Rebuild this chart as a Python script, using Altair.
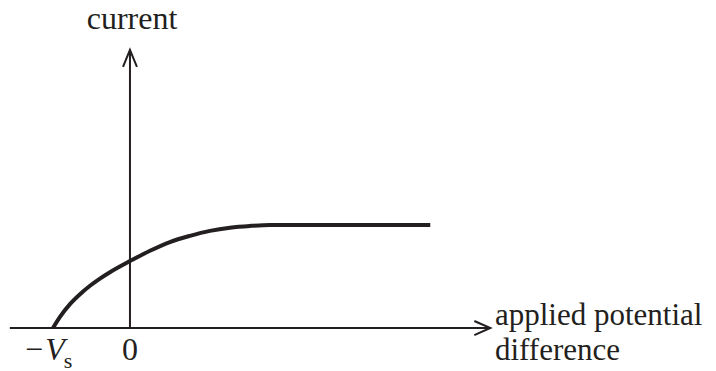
import altair as alt
import pandas as pd

# ---- data ----
# applied potential difference, in units of Vs ; current, in units of the saturation current
curve_v = [-1.0, -0.909, -0.779, -0.649, -0.519, -0.390, -0.260, 0.0, 0.26, 0.519,
           0.779, 1.039, 1.299, 1.558, 1.818, 3.9]
curve_i = [0.0, 0.108, 0.232, 0.328, 0.410, 0.480, 0.542, 0.65, 0.75, 0.835,
           0.895, 0.943, 0.974, 0.991, 1.0, 1.0]

x_axis_from, x_axis_to = -1.56, 4.68
y_axis_from, y_axis_to = 0.0, 2.70

x_title_lines = ["applied potential", "difference"]
y_title = "current"
tick_zero = "0"
tick_vs_minus, tick_vs_v, tick_vs_sub = "\u2212", "V", "s"

INK = "#231f20"
FONT = "Liberation Serif"
FS = 32

W, H = 700, 362
xs = alt.Scale(domain=[-1.584, -1.584 + W / 77.0], nice=False, zero=False)
ys = alt.Scale(domain=[3.107 - H / 103.0, 3.107], nice=False, zero=False)

curve = pd.DataFrame({"v": curve_v, "i": curve_i})
axes = pd.DataFrame({
    "x": [x_axis_from, 0.0], "x2": [x_axis_to, 0.0],
    "y": [0.0, y_axis_from], "y2": [0.0, y_axis_to],
})

rules = alt.Chart(axes).mark_rule(color=INK, strokeWidth=2).encode(
    x=alt.X("x:Q", scale=xs, axis=None), x2="x2:Q",
    y=alt.Y("y:Q", scale=ys, axis=None), y2="y2:Q",
)

arrow_x = alt.Chart(pd.DataFrame({"x": [x_axis_to], "y": [0.0]})).mark_point(
    shape="M -1 -0.44 L 0 0 L -1 0.44", size=1024, filled=False,
    stroke=INK, strokeWidth=2, opacity=1,
).encode(x=alt.X("x:Q", scale=xs, axis=None), y=alt.Y("y:Q", scale=ys, axis=None))

arrow_y = alt.Chart(pd.DataFrame({"x": [0.0], "y": [y_axis_to]})).mark_point(
    shape="M -0.41 1 L 0 0 L 0.41 1", size=1156, filled=False,
    stroke=INK, strokeWidth=2, opacity=1,
).encode(x=alt.X("x:Q", scale=xs, axis=None), y=alt.Y("y:Q", scale=ys, axis=None))

line = alt.Chart(curve).mark_line(color=INK, strokeWidth=4, interpolate="monotone").encode(
    x=alt.X("v:Q", scale=xs, axis=None), y=alt.Y("i:Q", scale=ys, axis=None)
)

def text_layer(df, **kw):
    return alt.Chart(df).mark_text(font=FONT, color=INK, baseline="alphabetic", **kw).encode(
        x=alt.X("x:Q", scale=xs, axis=None), y=alt.Y("y:Q", scale=ys, axis=None), text="t:N"
    )

t_current = text_layer(pd.DataFrame({"t": [y_title], "x": [0.026], "y": [2.90]}),
                       fontSize=FS, align="center")
t_xtitle = text_layer(pd.DataFrame({"t": x_title_lines, "x": [4.74, 4.74], "y": [0.03, -0.31]}),
                      fontSize=31, align="left")
t_zero = text_layer(pd.DataFrame({"t": [tick_zero], "x": [0.0], "y": [-0.31]}),
                    fontSize=FS, align="center")
t_minus = text_layer(pd.DataFrame({"t": [tick_vs_minus], "x": [-1.245], "y": [-0.31]}),
                     fontSize=FS, align="center")
t_v = text_layer(pd.DataFrame({"t": [tick_vs_v], "x": [-1.10], "y": [-0.31]}),
                 fontSize=FS, align="left", fontStyle="italic")
t_s = text_layer(pd.DataFrame({"t": [tick_vs_sub], "x": [-0.86], "y": [-0.385]}),
                 fontSize=22, align="left")

chart = alt.layer(rules, arrow_x, arrow_y, line, t_current, t_xtitle, t_zero, t_minus, t_v, t_s).properties(
    width=W, height=H, padding=0, autosize=alt.AutoSizeParams(type="none"),
    background="white",
).configure_view(stroke=None)

chart.save("out.html", embed_options={"renderer": "svg", "actions": False})
